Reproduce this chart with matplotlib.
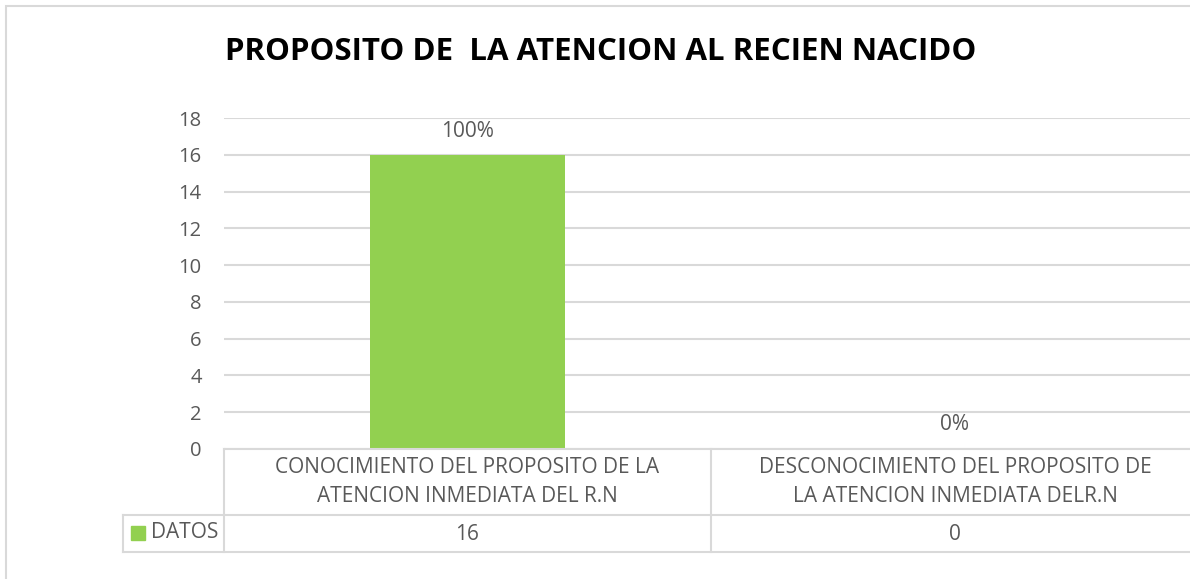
import numpy as np
import matplotlib.pyplot as plt
from matplotlib.lines import Line2D
from matplotlib.patches import Rectangle

W, H = 1190, 579

title = 'PROPOSITO DE  LA ATENCION AL RECIEN NACIDO'
categories = ['CONOCIMIENTO DEL PROPOSITO DE LA\nATENCION INMEDIATA DEL R.N',
              'DESCONOCIMIENTO DEL PROPOSITO DE\nLA ATENCION INMEDIATA DELR.N']
values = [16, 0]
series_name = 'DATOS'
y_ticks = [0, 2, 4, 6, 8, 10, 12, 14, 16, 18]

BAR_COLOR = '#92d050'
GRID_COLOR = '#d9d9d9'
TEXT_COLOR = '#595959'
FONT = 'Open Sans'
FS = 15

plt.rcParams['font.family'] = [FONT, 'DejaVu Sans']


def px(x, y):
    # pixel coords (origin top-left) -> figure fraction
    return x / W, 1 - y / H


fig = plt.figure(figsize=(W / 100, H / 100), dpi=100)

# plot area
left, right, top, bottom = 224, 1198, 118, 449
ax = fig.add_axes([left / W, 1 - bottom / H, (right - left) / W, (bottom - top) / H])
x = np.arange(len(categories))
ax.bar(x, values, width=0.4, color=BAR_COLOR, zorder=3)
ax.set_xlim(-0.5, len(categories) - 0.5)
ax.set_ylim(0, 18)
ax.set_yticks(y_ticks)
ax.yaxis.grid(True, color=GRID_COLOR, linewidth=1.5, zorder=0)
ax.set_xticks([])
ax.tick_params(axis='y', length=0, pad=16, labelsize=14.5, labelcolor=TEXT_COLOR)
for s in ax.spines.values():
    s.set_visible(False)

total = sum(values)
for xi, v in zip(x, values):
    ax.annotate(f'{v / total:.0%}', (xi, v), xytext=(0, 17 if v else 18),
                textcoords='offset points', ha='center', va='center',
                fontsize=FS, color=TEXT_COLOR)

# data table under the plot
table_lines = [
    ((224, 449), (1190, 449)),
    ((123, 515), (1190, 515)),
    ((123, 552), (1190, 552)),
    ((123, 515), (123, 552)),
    ((224, 449), (224, 552)),
    ((711, 449), (711, 552)),
]
for (x0, y0), (x1, y1) in table_lines:
    fx0, fy0 = px(x0, y0)
    fx1, fy1 = px(x1, y1)
    fig.add_artist(Line2D([fx0, fx1], [fy0, fy1], color=GRID_COLOR, linewidth=1.5))

col_centers = [467, 955]
for cx, cat, v in zip(col_centers, categories, values):
    fig.text(*px(cx, 482), cat, ha='center', va='center', fontsize=FS,
             color=TEXT_COLOR, linespacing=1.55)
    fig.text(*px(cx, 534), str(v), ha='center', va='center', fontsize=FS,
             color=TEXT_COLOR)

# legend key in the row header
kx, ky = px(131, 526)
fig.add_artist(Rectangle((kx, ky - 14 / H), 14 / W, 14 / H, color=BAR_COLOR,
                         transform=fig.transFigure))
fig.text(*px(151, 533), series_name, ha='left', va='center', fontsize=FS,
         color=TEXT_COLOR)

fig.text(*px(601, 52), title, ha='center', va='center', fontsize=22.5,
         fontweight='bold', color='black')

# chart area border
bx, by = px(6, 6)
fig.add_artist(Rectangle((bx, -0.1), 1.2, by + 0.1, fill=False,
                         edgecolor=GRID_COLOR, linewidth=1.5,
                         transform=fig.transFigure))

fig.savefig('out.png', dpi=100)
